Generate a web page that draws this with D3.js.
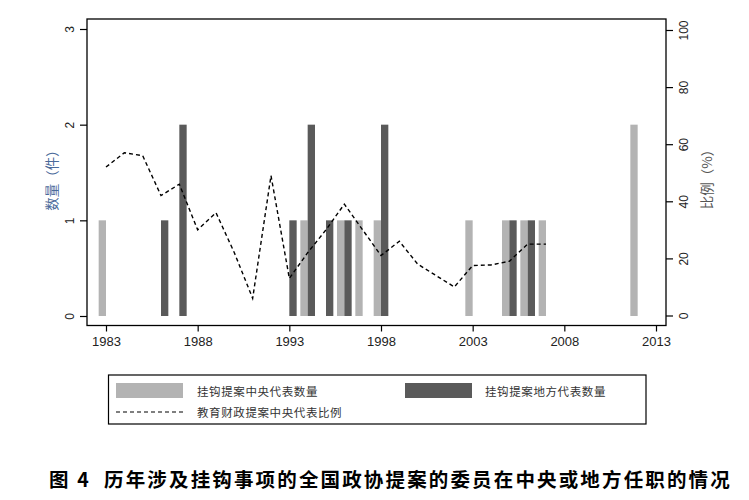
<!DOCTYPE html>
<html><head><meta charset="utf-8">
<script src="https://cdn.jsdelivr.net/npm/d3@7"></script>
<style>body{margin:0;background:#fff}svg{display:block}</style>
</head><body>
<svg id="c" width="749" height="500"></svg>
<script>
const years = d3.range(1983, 2014);
const xTicks = [1983, 1988, 1993, 1998, 2003, 2008, 2013];
const leftTicks = [0, 1, 2, 3];
const rightTicks = [0, 20, 40, 60, 80, 100];
const centralYears = [1983, 1994, 1996, 1997, 1998, 2003, 2005, 2006, 2007, 2012];
const centralCounts = [1, 1, 1, 1, 1, 1, 1, 1, 1, 2];
const localYears = [1986, 1987, 1993, 1994, 1995, 1996, 1998, 2005, 2006];
const localCounts = [1, 2, 1, 2, 1, 1, 2, 1, 1];
const ratioYears = d3.range(1983, 2008);
const ratioValues = [52, 57, 56, 42, 46, 30, 36, 22, 6, 49, 13, 22, 30, 39, 30, 21, 26, 18, 14, 10, 17.5, 17.7, 19, 25, 25];
const legendLabels = ["挂钩提案中央代表数量", "挂钩提案地方代表数量", "教育财政提案中央代表比例"];
const titleText = "图 4  历年涉及挂钩事项的全国政协提案的委员在中央或地方任职的情况";

const svg = d3.select("#c");
const F = "'Liberation Sans', Arial, sans-serif";
const CJK = "'Noto Sans CJK SC', sans-serif";

const frame = {l: 87, r: 666, t: 19, b: 325.5};
const x = d3.scaleLinear().domain([1983, 2013]).range([106, 656]);
const yL = d3.scaleLinear().domain([0, 3]).range([316, 29]);
const yR = d3.scaleLinear().domain([0, 100]).range([315.5, 30]);
const bw = x(1983.4) - x(1983);

// bars
const central = centralYears.map((y, i) => ({y, v: centralCounts[i]}));
const local = localYears.map((y, i) => ({y, v: localCounts[i]}));
svg.append("g").selectAll("rect").data(central).join("rect")
  .attr("x", d => x(d.y) - bw).attr("width", bw)
  .attr("y", d => yL(d.v)).attr("height", d => yL(0) - yL(d.v))
  .attr("fill", "#b3b3b3");
svg.append("g").selectAll("rect").data(local).join("rect")
  .attr("x", d => x(d.y)).attr("width", bw)
  .attr("y", d => yL(d.v)).attr("height", d => yL(0) - yL(d.v))
  .attr("fill", "#5a5a5a");

// line
const line = d3.line().x(d => x(d[0])).y(d => yR(d[1]));
svg.append("path").datum(ratioYears.map((y, i) => [y, ratioValues[i]]))
  .attr("d", line).attr("fill", "none").attr("stroke", "#000")
  .attr("stroke-width", 1.4).attr("stroke-dasharray", "4,3");

// frame
svg.append("rect").attr("x", frame.l).attr("y", frame.t)
  .attr("width", frame.r - frame.l).attr("height", frame.b - frame.t)
  .attr("fill", "none").attr("stroke", "#000").attr("stroke-width", 1.3);

// axes
const ax = svg.append("g").attr("transform", `translate(0,${frame.b})`)
  .call(d3.axisBottom(x).tickValues(xTicks).tickFormat(d3.format("d")).tickSize(6).tickSizeOuter(0));
ax.select(".domain").remove();
ax.selectAll("text").attr("font-family", F).attr("font-size", 13).attr("fill", "#222").attr("dy", "0.9em");

const al = svg.append("g").attr("transform", `translate(${frame.l},0)`)
  .call(d3.axisLeft(yL).tickValues(leftTicks).tickFormat(d3.format("d")).tickSize(7).tickSizeOuter(0));
al.select(".domain").remove();
al.selectAll("text").attr("font-family", F).attr("font-size", 12).attr("fill", "#222")
  .attr("x", null).attr("dy", null)
  .attr("transform", "translate(-17,0) rotate(-90)").attr("text-anchor", "middle").attr("dominant-baseline", "central");

const ar = svg.append("g").attr("transform", `translate(${frame.r},0)`)
  .call(d3.axisRight(yR).tickValues(rightTicks).tickFormat(d3.format("d")).tickSize(7).tickSizeOuter(0));
ar.select(".domain").remove();
ar.selectAll("text").attr("font-family", F).attr("font-size", 12).attr("fill", "#222")
  .attr("x", null).attr("dy", null)
  .attr("transform", "translate(18,0) rotate(-90)").attr("text-anchor", "middle").attr("dominant-baseline", "central");

svg.selectAll(".tick line").attr("stroke", "#000").attr("stroke-width", 1.2);

// axis titles
svg.append("text").attr("transform", "translate(51,177) rotate(-90)")
  .attr("text-anchor", "middle").attr("dominant-baseline", "central")
  .attr("font-family", CJK).attr("font-size", 13.5).attr("fill", "#4a6a9a").text("数量（件）");
svg.append("text").attr("transform", "translate(706,176) rotate(-90)")
  .attr("text-anchor", "middle").attr("dominant-baseline", "central")
  .attr("font-family", CJK).attr("font-size", 13.5).attr("fill", "#555").text("比例（%）");

// legend
svg.append("rect").attr("x", 108.5).attr("y", 375).attr("width", 537.5).attr("height", 49)
  .attr("fill", "#fff").attr("stroke", "#000").attr("stroke-width", 1.2);
const lg = svg.append("g").attr("font-family", CJK).attr("font-size", 11.5).attr("fill", "#333");
lg.append("rect").attr("x", 116).attr("y", 383).attr("width", 67).attr("height", 15).attr("fill", "#b3b3b3");
lg.append("text").attr("x", 197).attr("y", 391).attr("dominant-baseline", "central").attr("letter-spacing", 0.6).text(legendLabels[0]);
lg.append("rect").attr("x", 405).attr("y", 383).attr("width", 67).attr("height", 15).attr("fill", "#5a5a5a");
lg.append("text").attr("x", 485).attr("y", 391).attr("dominant-baseline", "central").attr("letter-spacing", 0.6).text(legendLabels[1]);
lg.append("line").attr("x1", 116).attr("x2", 183).attr("y1", 412).attr("y2", 412)
  .attr("stroke", "#000").attr("stroke-width", 1.2).attr("stroke-dasharray", "4,3");
lg.append("text").attr("x", 197).attr("y", 411.5).attr("dominant-baseline", "central").attr("letter-spacing", 0.6).text(legendLabels[2]);

// title
svg.append("text").attr("x", 49).attr("y", 478).attr("dominant-baseline", "central")
  .attr("font-family", CJK).attr("font-weight", "bold").attr("font-size", 19.5)
  .attr("letter-spacing", 2.15).attr("fill", "#000").style("white-space", "pre").text(titleText);
</script>
</body></html>
